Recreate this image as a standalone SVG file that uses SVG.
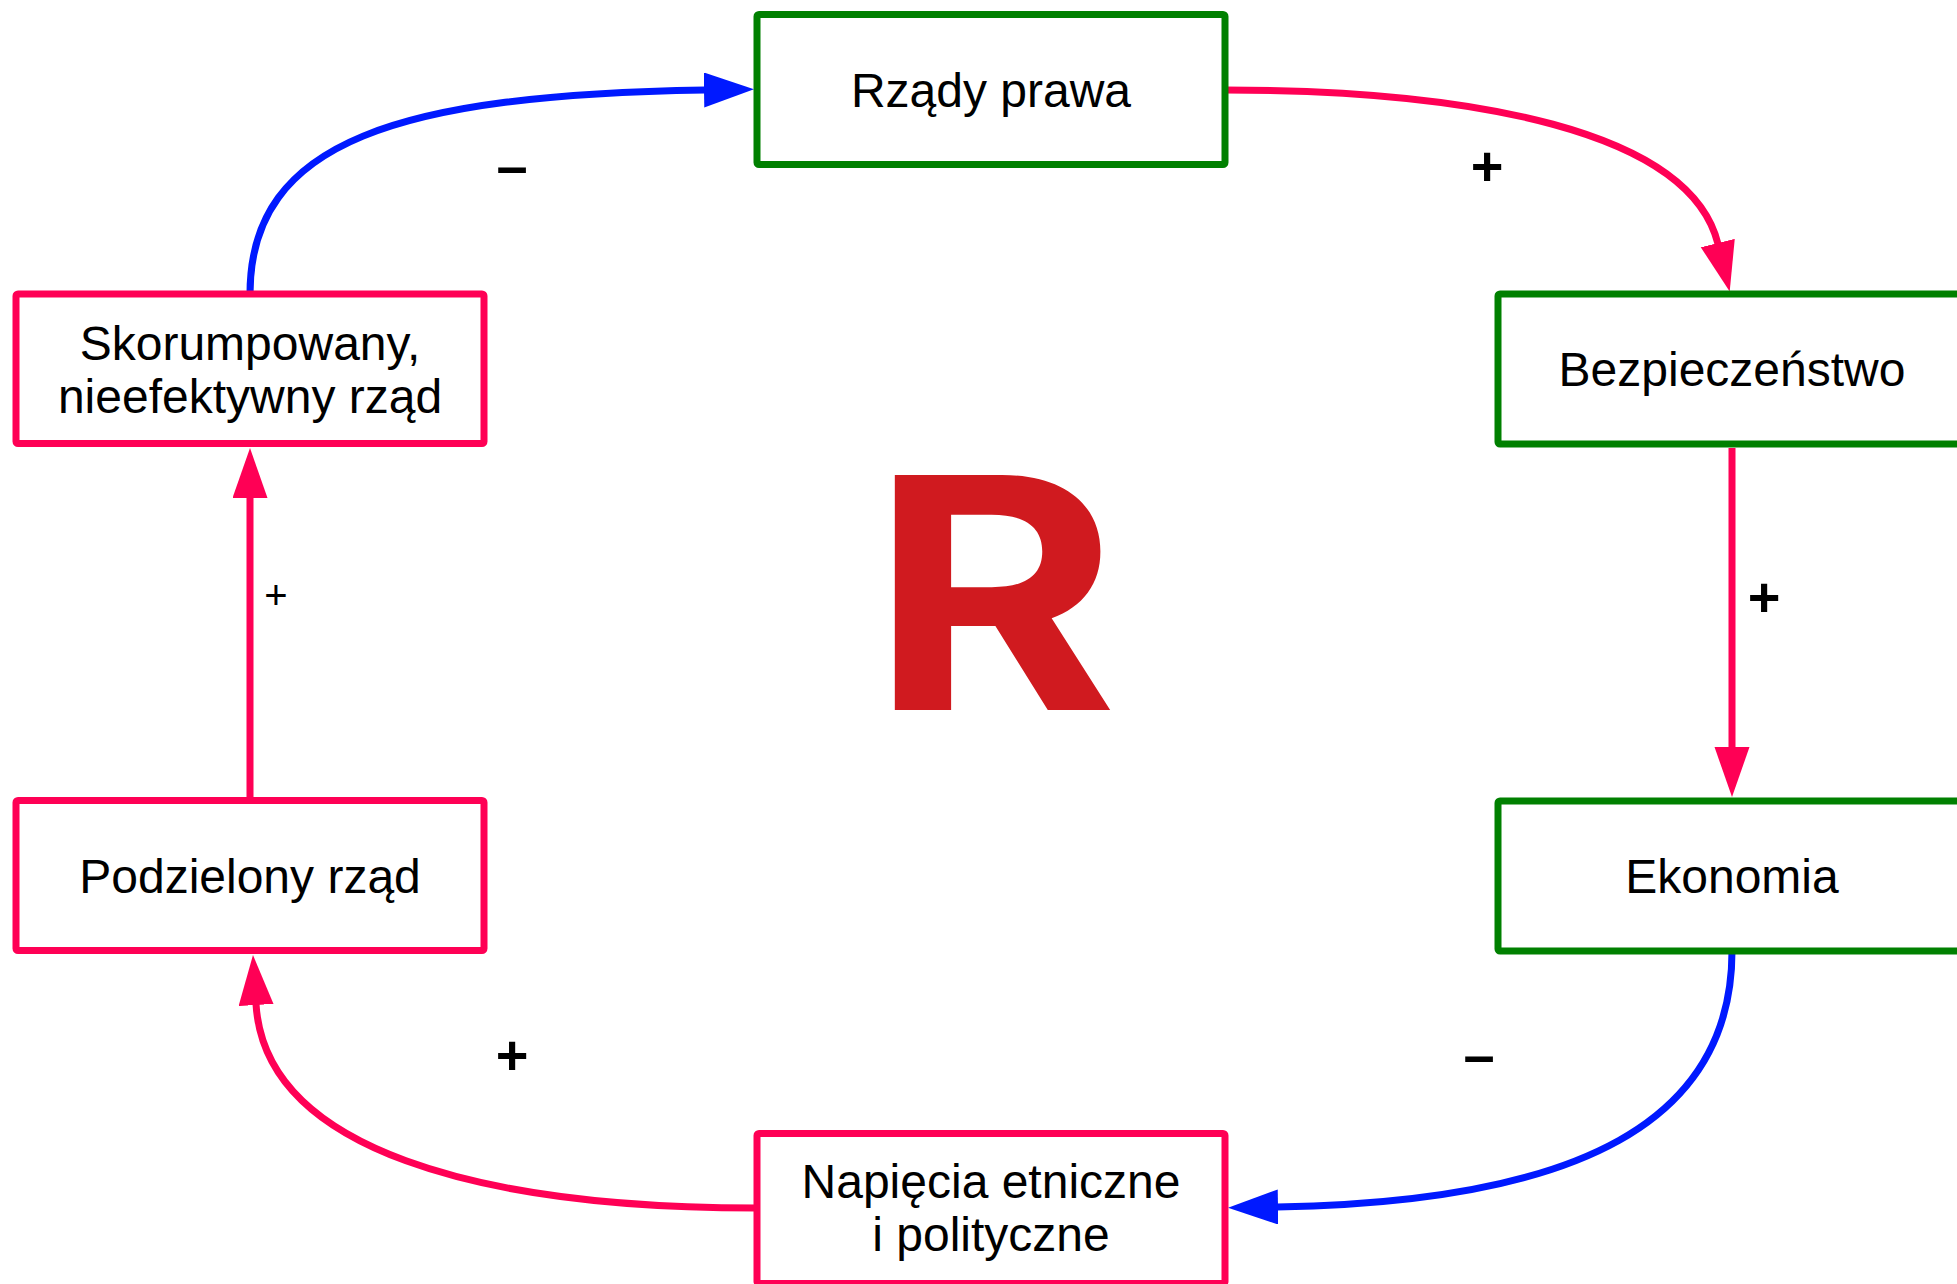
<svg xmlns="http://www.w3.org/2000/svg" width="1957" height="1284" viewBox="0 0 1957 1284">
  <style>
    .box { fill: #ffffff; stroke-width: 7; }
    .good { stroke: #008000; }
    .bad { stroke: #ff0055; }
    .label { font-family: "Liberation Sans", Arial, sans-serif; font-size: 48px; fill: #000000; text-anchor: middle; }
    .sign { font-family: "Liberation Sans", Arial, sans-serif; font-size: 56px; font-weight: bold; fill: #000000; text-anchor: middle; }
    .sign-thin { font-family: "Liberation Sans", Arial, sans-serif; font-size: 40px; fill: #000000; text-anchor: middle; }
    .link { fill: none; stroke-width: 7; }
    .pos { stroke: #ff0055; }
    .neg { stroke: #0019ff; }
    .loop { font-family: Inter, Roboto, sans-serif; font-weight: 700; font-size: 323px; fill: #d01a1f; text-anchor: middle; }
  </style>
  <defs>
    <marker id="head-pos" markerUnits="userSpaceOnUse" markerWidth="52" markerHeight="36" refX="1" refY="17.5" orient="auto">
      <path d="M0,0 L50,17.5 L0,35 z" fill="#ff0055"/>
    </marker>
    <marker id="head-neg" markerUnits="userSpaceOnUse" markerWidth="52" markerHeight="36" refX="1" refY="17.5" orient="auto">
      <path d="M0,0 L50,17.5 L0,35 z" fill="#0019ff"/>
    </marker>
  </defs>

  <rect width="1957" height="1284" fill="#ffffff"/>

  <!-- causal links -->
  <g id="connectors">
    <path class="link neg" d="M250,294 C250,140 400,95 705,90" marker-end="url(#head-neg)"/>
    <path class="link pos" d="M1225,90 C1470,90 1690,130 1718,244" marker-end="url(#head-pos)"/>
    <path class="link pos" d="M1732,448 L1732,748" marker-end="url(#head-pos)"/>
    <path class="link neg" d="M1732,951 C1732,1120 1582,1202 1277,1207" marker-end="url(#head-neg)"/>
    <path class="link pos" d="M757,1208 C480,1208 265,1150 256,1004" marker-end="url(#head-pos)"/>
    <path class="link pos" d="M250,800 L250,497" marker-end="url(#head-pos)"/>
  </g>

  <!-- link polarity signs -->
  <g id="signs">
    <text class="sign" x="512" y="185">–</text>
    <text class="sign" x="1487" y="185">+</text>
    <text class="sign" x="1764" y="616">+</text>
    <text class="sign" x="1479" y="1074">–</text>
    <text class="sign" x="512" y="1074">+</text>
    <text class="sign-thin" x="276" y="609">+</text>
  </g>

  <!-- reinforcing loop marker -->
  <text id="loop-type" class="loop" transform="translate(994,710) scale(1.17,1)" x="0" y="0">R</text>

  <g id="node-rzady-prawa">
    <rect class="box good" x="757" y="14.5" width="468" height="150" rx="2"/>
    <text class="label" x="991" y="107">Rządy prawa</text>
  </g>
  <g id="node-bezpieczenstwo">
    <rect class="box good" x="1498" y="294" width="468" height="150" rx="2"/>
    <text class="label" x="1732" y="386">Bezpieczeństwo</text>
  </g>
  <g id="node-ekonomia">
    <rect class="box good" x="1498" y="801" width="468" height="150" rx="2"/>
    <text class="label" x="1732" y="893">Ekonomia</text>
  </g>
  <g id="node-napiecia">
    <rect class="box bad" x="757" y="1133.5" width="468" height="150" rx="2"/>
    <text class="label" x="991" y="1198">Napięcia etniczne</text>
    <text class="label" x="991" y="1251">i polityczne</text>
  </g>
  <g id="node-podzielony">
    <rect class="box bad" x="16" y="800.5" width="468" height="150" rx="2"/>
    <text class="label" x="250" y="893">Podzielony rząd</text>
  </g>
  <g id="node-skorumpowany">
    <rect class="box bad" x="16" y="294" width="468" height="149.5" rx="2"/>
    <text class="label" x="250" y="360">Skorumpowany,</text>
    <text class="label" x="250" y="413">nieefektywny rząd</text>
  </g>
</svg>
